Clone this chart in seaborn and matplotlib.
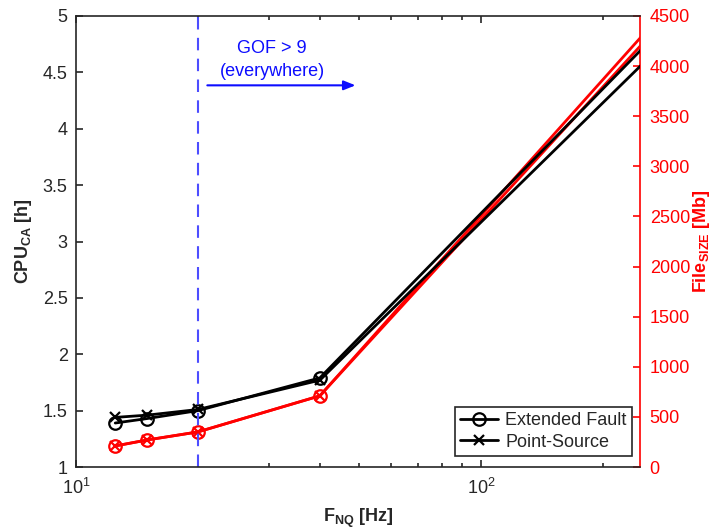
import numpy as np
import pandas as pd
import matplotlib
matplotlib.use("Agg")
import matplotlib.pyplot as plt
import seaborn as sns

# sampling frequency [Hz] (last point lies past the plotted range)
freq = [12.5, 15, 20, 40, 300]

# CPU time [h]
cpu_extended = [1.39, 1.43, 1.50, 1.79, 5.00]
cpu_point = [1.44, 1.46, 1.51, 1.77, 4.85]

# file size [Mb]
size_extended = [210, 270, 350, 710, 4660]
size_point = [210, 270, 350, 710, 4570]

gof_freq = 20

sns.set_style("ticks")
plt.rcParams["font.family"] = ["Liberation Sans", "DejaVu Sans"]
plt.rcParams["mathtext.fontset"] = "custom"
plt.rcParams["mathtext.rm"] = "Liberation Sans"
plt.rcParams["mathtext.bf"] = "Liberation Sans:bold"
plt.rcParams["mathtext.it"] = "Liberation Sans:italic"

df = pd.DataFrame({"freq": freq, "cpu_ext": cpu_extended, "cpu_pt": cpu_point,
                   "size_ext": size_extended, "size_pt": size_point})

fig = plt.figure(figsize=(7.16, 5.29), dpi=100)
ax = fig.add_axes([76 / 716, 1 - 467 / 529, (640 - 76) / 716, (467 - 16) / 529])
ax2 = ax.twinx()

style = dict(lw=2, markerfacecolor="none", markeredgewidth=1.6)

sns.lineplot(data=df, x="freq", y="size_ext", ax=ax2, color="red", marker="o",
             markersize=9, markeredgecolor="red", **style)
sns.lineplot(data=df, x="freq", y="size_pt", ax=ax2, color="red", marker="x",
             markersize=7, markeredgecolor="red", **style)
sns.lineplot(data=df, x="freq", y="cpu_ext", ax=ax, color="black", marker="o",
             markersize=9, markeredgecolor="black", label="Extended Fault", **style)
sns.lineplot(data=df, x="freq", y="cpu_pt", ax=ax, color="black", marker="x",
             markersize=7, markeredgecolor="black", label="Point-Source", **style)

ax.axvline(gof_freq, color=(0.3, 0.3, 1.0), lw=1.5, ls=(0, (6, 4)))
ax.annotate("", xy=(49, 4.385), xytext=(21.1, 4.385),
            arrowprops=dict(arrowstyle="-|>,head_length=0.5,head_width=0.2",
                            color=(0.05, 0.05, 1.0), lw=1.5,
                            mutation_scale=14, shrinkA=0, shrinkB=0))
ax.text(30.5, 4.715, "GOF > 9", color=(0.05, 0.05, 1.0), fontsize=13,
        ha="center", va="center")
ax.text(30.5, 4.51, "(everywhere)", color=(0.05, 0.05, 1.0), fontsize=13,
        ha="center", va="center")

ax.set_xscale("log")
ax.set_xlim(10, 247)
ax.set_ylim(1, 5)
ax.set_yticks(np.arange(1, 5.01, 0.5))
ax.set_yticklabels(["1", "1.5", "2", "2.5", "3", "3.5", "4", "4.5", "5"])
ax2.set_ylim(0, 4500)
ax2.set_yticks(np.arange(0, 4501, 500))

ax.set_xlabel(r"$\mathbf{F_{NQ}}$ [Hz]", fontsize=13, fontweight="bold", labelpad=6)
ax.set_ylabel(r"$\mathbf{CPU_{CA}}$ [h]", fontsize=13, fontweight="bold", labelpad=6)
ax2.set_ylabel(r"$\mathbf{File_{SIZE}}$ [Mb]", fontsize=13, fontweight="bold",
               color="red", labelpad=1)

ax.tick_params(axis="x", which="both", direction="in", top=True, labelsize=13,
               color="#262626", pad=8)
ax.tick_params(axis="x", which="major", length=5, width=1.2)
ax.tick_params(axis="x", which="minor", length=3, width=1.2)
ax.tick_params(axis="y", direction="in", right=False, labelsize=13, length=5, width=1.2,
               color="#262626", pad=6)
ax2.tick_params(axis="y", direction="in", labelsize=13, length=5, width=1.2,
                colors="red", pad=7)

for side in ["left", "bottom", "top"]:
    ax.spines[side].set_color("#262626")
    ax.spines[side].set_linewidth(1.2)
ax.spines["right"].set_visible(False)
for side in ["left", "bottom", "top"]:
    ax2.spines[side].set_visible(False)
ax2.spines["right"].set_color("red")
ax2.spines["right"].set_linewidth(1.2)

ax.set_zorder(ax2.get_zorder() + 1)
ax.patch.set_visible(False)

leg = ax.legend(loc="lower right", bbox_to_anchor=(0.986, 0.024), fontsize=13,
                frameon=True, fancybox=False, edgecolor="#262626", framealpha=1,
                handlelength=2.1, borderaxespad=0, borderpad=0.3, labelspacing=0.25,
                handletextpad=0.4)
leg.get_frame().set_linewidth(1.2)

fig.savefig("out.png", dpi=100)
